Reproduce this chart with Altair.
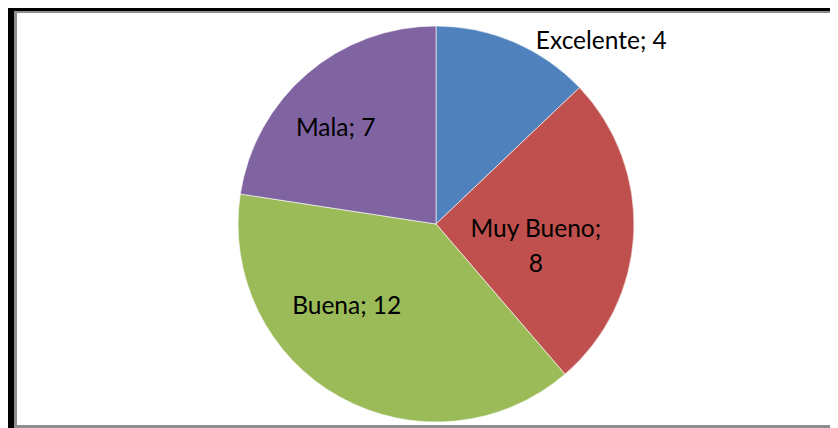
import math
import altair as alt
import pandas as pd

categories = ["Excelente", "Muy Bueno", "Buena", "Mala"]
values = [4, 8, 12, 7]
colors = ["#4F81BD", "#C0504D", "#9BBB59", "#8064A2"]

df = pd.DataFrame({"cat": categories, "value": values, "idx": list(range(len(categories)))})

W, H = 822, 420
CX, CY, R = 428, 216, 198

# label layout: (radius, angle offset in degrees, multi-line)
label_layout = {
    "Excelente": (246, 19, False),
    "Muy Bueno": (100, 0.5, True),
    "Buena": (122, 18, False),
    "Mala": (138, -6, False),
}

base = alt.Chart(df)

pie = base.mark_arc(outerRadius=R, stroke="#ffffff", strokeWidth=0.6).encode(
    theta=alt.Theta("value:Q", stack=True),
    color=alt.Color("cat:N", scale=alt.Scale(domain=categories, range=colors), legend=None),
    order=alt.Order("idx:Q"),
    x=alt.value(CX),
    y=alt.value(CY),
)

lab_base = base.transform_window(
    cum="sum(value)", sort=[alt.SortField("idx")]
).transform_joinaggregate(total="sum(value)").transform_calculate(
    frac="(datum.cum - datum.value/2)/datum.total"
)

layers = [pie]
for c in categories:
    r, dth, wrap = label_layout[c]
    expr = "datum.cat + ';\\n' + datum.value" if wrap else "datum.cat + '; ' + datum.value"
    t = lab_base.transform_filter(alt.datum.cat == c).transform_calculate(
        label=expr
    ).mark_text(
        radius=r, thetaOffset=math.radians(dth), font="Lato", fontSize=24.5,
        color="#000000", lineBreak="\n", lineHeight=35, align="center", baseline="middle",
    ).encode(
        theta=alt.Theta("frac:Q", scale=alt.Scale(domain=[0, 1], range=[0, 2 * math.pi]), stack=None),
        text="label:N",
        x=alt.value(CX),
        y=alt.value(CY),
    )
    layers.append(t)

border_df = pd.DataFrame({"k": [0]})
bb = alt.Chart(border_df)
left_black = bb.mark_rule(color="#000000", strokeWidth=6).encode(x=alt.value(3), y=alt.value(0), y2=alt.value(H))
top_black = bb.mark_rule(color="#000000", strokeWidth=5).encode(x=alt.value(0), x2=alt.value(W), y=alt.value(0.5))
left_gray = bb.mark_rule(color="#8e8e8e", strokeWidth=3).encode(x=alt.value(7.5), y=alt.value(3), y2=alt.value(H))
top_gray = bb.mark_rule(color="#8e8e8e", strokeWidth=2).encode(x=alt.value(6), x2=alt.value(W), y=alt.value(4))
bottom_gray = bb.mark_rule(color="#8e8e8e", strokeWidth=3).encode(x=alt.value(6), x2=alt.value(W), y=alt.value(H - 1.5))

chart = alt.layer(*layers, left_black, top_black, left_gray, top_gray, bottom_gray).resolve_scale(
    theta="independent"
).properties(
    width=W, height=H, padding=0, autosize=alt.AutoSizeParams(type="none"),
    background="#ffffff",
).configure_view(stroke=None)

chart.save("out.html", embed_options={"renderer": "svg", "actions": False})
